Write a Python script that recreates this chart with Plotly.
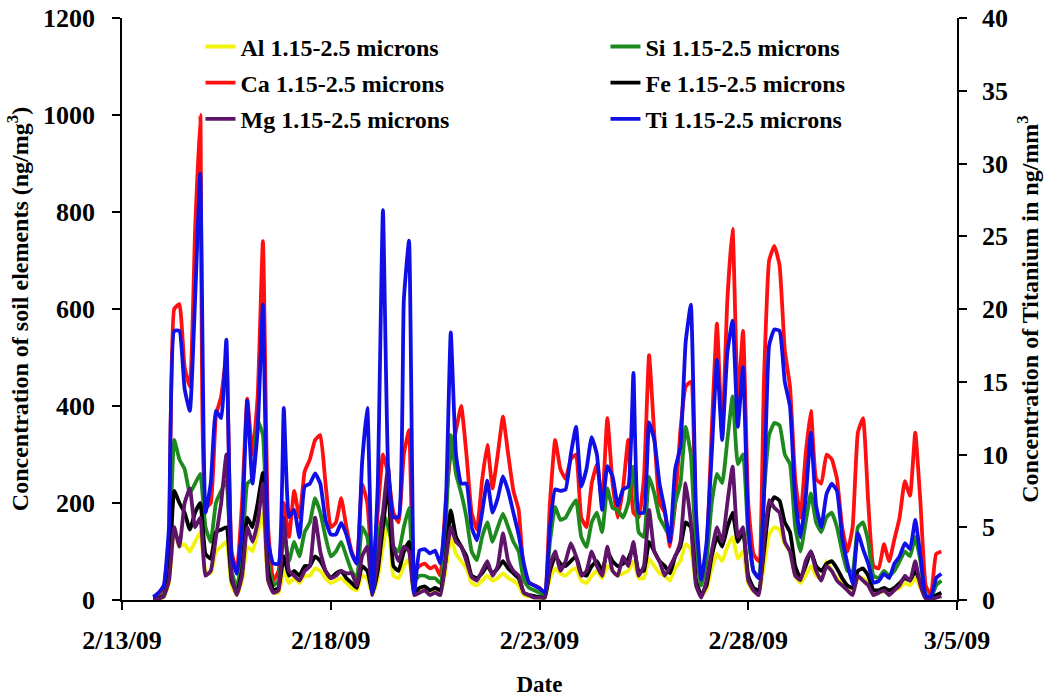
import pandas as pd
import plotly.graph_objects as go

# 3-hourly sampling times
start_time = "2009-02-13 18:00"
n_points = 152
times = pd.date_range(start_time, periods=n_points, freq="3h")

al = [2, 3, 6, 35, 150, 110, 115, 100,
      120, 140, 60, 55, 100, 110, 120, 30,
      10, 40, 110, 100, 140, 180, 40, 15,
      15, 60, 35, 45, 35, 50, 50, 65,
      60, 45, 35, 40, 45, 35, 25, 20,
      50, 45, 10, 45, 110, 170, 50, 45,
      70, 85, 10, 20, 20, 15, 20, 15,
      60, 130, 95, 80, 65, 35, 30, 40,
      50, 40, 45, 55, 45, 40, 30, 10,
      8, 6, 5, 4, 45, 65, 55, 50,
      60, 65, 40, 35, 50, 60, 45, 70,
      60, 50, 55, 60, 80, 45, 45, 85,
      70, 55, 50, 40, 65, 80, 115, 105,
      30, 8, 22, 65, 95, 80, 110, 130,
      85, 100, 35, 18, 15, 70, 135, 150,
      145, 115, 100, 50, 35, 50, 70, 50,
      45, 80, 60, 45, 35, 25, 20, 45,
      45, 35, 15, 15, 18, 15, 20, 25,
      35, 30, 45, 25, 4, 2, 8, 10]

ca = [5, 10, 25, 130, 600, 610, 480, 440,
      760, 1000, 190, 200, 380, 420, 500, 100,
      60, 200, 415, 300, 420, 740, 150, 40,
      60, 200, 130, 225, 170, 265, 290, 330,
      340, 240, 150, 160, 210, 150, 100, 75,
      240, 200, 60, 180, 300, 260, 180, 160,
      300, 350, 60, 70, 75, 65, 70, 50,
      200, 300, 350, 400, 300, 180, 145, 247,
      320, 230, 300, 378, 300, 225, 186, 60,
      35, 30, 25, 15, 200, 330, 270, 250,
      290, 300, 170, 150, 240, 280, 200, 375,
      240, 170, 230, 330, 180, 170, 250, 505,
      340, 200, 180, 110, 200, 350, 440, 450,
      150, 40, 100, 350, 570, 340, 620, 765,
      410, 555, 200, 95, 80, 450, 700, 730,
      690, 515, 440, 250, 170, 300, 390, 250,
      240, 300, 290, 250, 150, 100, 150, 345,
      375, 200, 70, 65, 115, 80, 125, 170,
      245, 215, 345, 200, 30, 10, 95, 100]

si = [3, 5, 12, 80, 330, 290, 270, 220,
      240, 260, 150, 120, 200, 225, 245, 60,
      25, 90, 240, 250, 370, 340, 80, 30,
      40, 140, 80, 120, 90, 140, 160, 210,
      180, 130, 90, 100, 120, 90, 60, 45,
      150, 130, 40, 120, 180, 150, 110, 100,
      150, 190, 40, 50, 50, 45, 45, 35,
      150, 340, 260, 220, 170, 100, 82, 130,
      160, 120, 150, 178, 150, 120, 100, 40,
      25, 20, 15, 10, 120, 192, 165, 170,
      190, 206, 130, 109, 160, 180, 140, 230,
      190, 185, 170, 200, 275, 140, 130, 254,
      220, 170, 150, 130, 200, 240, 357, 300,
      100, 30, 80, 200, 260, 241, 330, 420,
      280, 300, 130, 60, 50, 220, 340, 365,
      360, 300, 280, 150, 100, 160, 220, 160,
      140, 171, 180, 150, 100, 60, 60, 150,
      160, 120, 50, 45, 60, 50, 60, 80,
      100, 90, 130, 80, 10, 5, 30, 40]

fe = [2, 4, 8, 50, 225, 200, 180, 145,
      180, 200, 95, 85, 140, 145, 150, 40,
      15, 60, 170, 150, 200, 262, 60, 20,
      25, 90, 50, 60, 50, 70, 70, 90,
      80, 60, 45, 55, 60, 45, 35, 25,
      70, 60, 15, 60, 150, 240, 70, 60,
      100, 120, 15, 25, 28, 20, 25, 20,
      80, 185, 130, 110, 90, 50, 45, 55,
      70, 55, 65, 80, 65, 55, 45, 15,
      10, 8, 6, 5, 60, 90, 75, 70,
      80, 90, 55, 50, 70, 80, 60, 100,
      80, 70, 75, 85, 110, 60, 60, 120,
      100, 80, 70, 55, 90, 110, 160, 150,
      40, 10, 30, 90, 130, 110, 150, 180,
      120, 140, 50, 25, 20, 100, 190, 212,
      205, 160, 140, 70, 45, 70, 100, 70,
      60, 75, 80, 65, 45, 30, 25, 60,
      65, 50, 20, 20, 25, 20, 25, 35,
      45, 40, 60, 35, 5, 3, 10, 15]

mg = [2, 3, 8, 40, 150, 110, 200, 230,
      150, 170, 50, 60, 130, 200, 300, 50,
      10, 50, 150, 120, 160, 240, 40, 15,
      20, 170, 60, 50, 40, 60, 70, 170,
      100, 60, 45, 50, 60, 55, 55, 30,
      90, 110, 10, 80, 180, 275, 110, 80,
      110, 100, 10, 15, 20, 10, 15, 10,
      80, 150, 120, 110, 80, 47, 40, 60,
      80, 50, 70, 138, 80, 60, 50, 15,
      10, 5, 5, 5, 70, 100, 60, 80,
      117, 90, 50, 60, 100, 70, 50, 110,
      60, 50, 90, 70, 120, 50, 70, 186,
      100, 80, 50, 69, 90, 120, 241, 160,
      30, 5, 40, 100, 150, 120, 200, 275,
      130, 150, 40, 20, 10, 120, 206, 190,
      180, 120, 100, 50, 41, 80, 100, 60,
      40, 70, 60, 40, 30, 20, 10, 50,
      40, 30, 10, 15, 20, 10, 20, 30,
      50, 40, 80, 30, 3, 2, 5, 8]

ti = [0.2, 0.5, 1.0, 5, 18.5, 18.5, 14.5, 13,
      20.6, 29.3, 6, 8, 13, 12.5, 17.9, 3,
      1.8, 5, 13.7, 8, 11.7, 20.3, 4, 2.5,
      2.5, 13.2, 5.7, 6.2, 4.3, 7.8, 8, 8.7,
      8, 5.5, 4.5, 4.5, 5.3, 4.5, 3.2, 2.5,
      9.4, 13.2, 0.5, 7.8, 26.8, 9, 5.7, 5.7,
      20.6, 24.7, 0.5, 3.4, 3.5, 3.2, 3.4, 2.5,
      6, 18.4, 10, 8, 8, 5, 4.1, 6,
      8.2, 6, 7, 8.5, 7.5, 6, 4.5, 2.5,
      1.2, 1.0, 0.8, 0.5, 5, 7.6, 7.5, 7.6,
      10, 11.9, 7.8, 9, 11.2, 10, 6.2, 9.2,
      8.5, 6.5, 7.6, 7.8, 15.6, 6, 6, 12.2,
      11, 8, 6.2, 4, 9, 10.5, 17.7, 20.3,
      6, 1.4, 3.9, 10, 16.5, 11, 17, 19.2,
      11.9, 16, 5, 2, 1.5, 7, 17.5, 18.6,
      18.5, 15, 13.3, 7, 4.3, 7, 11.5, 6.5,
      5, 7.3, 8, 7.5, 4.3, 2.5, 1.1, 4.6,
      3.5, 2.5, 1.2, 1.3, 1.8, 1.5, 2.5, 3,
      3.9, 3.5, 5.5, 3, 0.3, 0.2, 1.5, 1.8]

x_ticks = ["2009-02-13", "2009-02-18", "2009-02-23", "2009-02-28", "2009-03-05"]
x_tick_labels = ["2/13/09", "2/18/09", "2/23/09", "2/28/09", "3/5/09"]

FONT = "Liberation Serif"
LW = 3.8

series = [
    ("Al 1.15-2.5 microns", al, "#f2f20a", "legend", "y"),
    ("Ca 1.15-2.5 microns", ca, "#ff1010", "legend", "y"),
    ("Si 1.15-2.5 microns", si, "#1e8a1e", "legend2", "y"),
    ("Fe 1.15-2.5 microns", fe, "#000000", "legend2", "y"),
    ("Mg 1.15-2.5 microns", mg, "#5e1468", "legend", "y"),
    ("Ti 1.15-2.5 microns", ti, "#1010e6", "legend2", "y2"),
]

fig = go.Figure()
for name, vals, color, leg, yax in series:
    fig.add_trace(go.Scatter(
        x=times, y=vals, name=name, mode="lines",
        line=dict(color=color, width=LW, shape="spline", smoothing=0.4),
        legend=leg, legendgroup=name, yaxis=yax,
    ))

legend_common = dict(
    xanchor="left", yanchor="top", bgcolor="rgba(0,0,0,0)",
    font=dict(family=FONT, size=24, color="black", weight="bold"),
    traceorder="grouped", tracegroupgap=2, itemwidth=30,
)

tick_font = dict(family=FONT, size=26, color="black", weight="bold")
title_font = dict(family=FONT, size=24, color="black", weight="bold")

fig.update_layout(
    width=1046, height=698,
    margin=dict(l=122, r=89, t=18, b=98),
    paper_bgcolor="white", plot_bgcolor="white",
    showlegend=True,
    legend=dict(x=0.094, y=0.989, **legend_common),
    legend2=dict(x=0.579, y=0.989, **legend_common),
    xaxis=dict(
        range=["2009-02-13", "2009-03-05"],
        tickvals=x_ticks, ticktext=x_tick_labels,
        showline=True, linecolor="black", linewidth=1.5,
        ticks="outside", ticklen=8, tickcolor="black", tickwidth=1.5,
        showgrid=False, zeroline=False, ticklabelstandoff=8, automargin=False,
        tickfont=tick_font,
        title=dict(text="Date", standoff=22,
                   font=dict(family=FONT, size=23, color="black", weight="bold")),
    ),
    yaxis=dict(
        range=[0, 1200], tickvals=[0, 200, 400, 600, 800, 1000, 1200],
        showline=True, linecolor="black", linewidth=1.5,
        ticks="outside", ticklen=8, tickcolor="black", tickwidth=1.5,
        showgrid=False, zeroline=False, ticklabelstandoff=12, automargin=False,
        tickfont=tick_font,
        title=dict(text="Concentration of soil elements (ng/mg<sup>3</sup>)", standoff=8,
                   font=title_font),
    ),
    yaxis2=dict(
        range=[0, 40], tickvals=[0, 5, 10, 15, 20, 25, 30, 35, 40],
        overlaying="y", side="right",
        showline=True, linecolor="black", linewidth=1.5,
        ticks="outside", ticklen=8, tickcolor="black", tickwidth=1.5,
        showgrid=False, zeroline=False, ticklabelstandoff=10, automargin=False,
        tickfont=tick_font,
        title=dict(text="Concentration of Titanium in ng/mm<sup>3</sup>", standoff=14,
                   font=title_font),
    ),
)

fig.write_html("out.html")
